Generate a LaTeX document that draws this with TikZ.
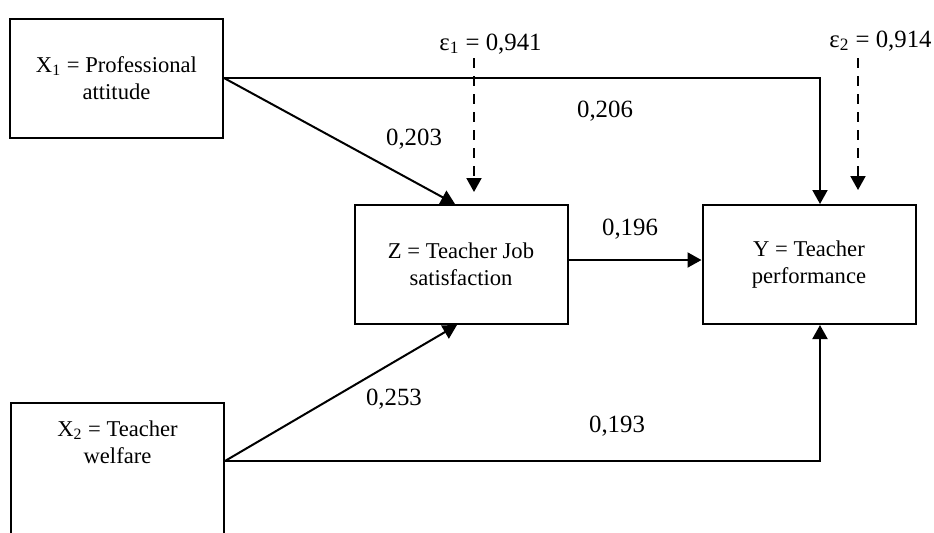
\documentclass[tikz,border=0pt]{standalone}
\usepackage{fontspec}
\setmainfont{Liberation Serif}
\usetikzlibrary{arrows.meta,calc}
\begin{document}
\begin{tikzpicture}[x=0.5pt,y=-0.5pt,
  box/.style={draw,line width=1pt,minimum width=106.5pt,minimum height=59.5pt,inner sep=0pt,align=center,font=\fontsize{11.3pt}{13.5pt}\selectfont},
  lab/.style={anchor=base,inner sep=0pt,font=\fontsize{12.4pt}{14pt}\selectfont},
  conn/.style={line width=1pt,-{Triangle[length=7pt,width=7.5pt]}},
  err/.style={line width=1pt,dash pattern=on 5pt off 4pt,-{Triangle[length=7pt,width=7.5pt]}}]
\useasboundingbox (0,0) rectangle (934,532);
\clip (0,0) rectangle (934,532);
% boxes
\node[box] (x1) at (116.5,78) {X\textsubscript{1} = Professional\\attitude};
\node[box] (z) at (461,264.5) {Z = Teacher Job\\satisfaction};
\node[box] (y) at (809,264.5) {Y = Teacher\\performance};
\node[box,anchor=north west,minimum height=72pt] (x2) at (10,402)
  {\parbox[t][72pt][t]{106.5pt}{\centering\rule{0pt}{16.5pt}X\textsubscript{2} = Teacher\\welfare}};
% error terms
\node[lab] (e1) at (490.5,50) {ε\textsubscript{1} = 0,941};
\node[lab] (e2) at (880.5,47) {ε\textsubscript{2} = 0,914};
\coordinate (e1s) at (474,58);
\coordinate (e1e) at (474,192);
\coordinate (e2s) at (858,58);
\coordinate (e2e) at (858,190);
\draw[err] (e1s) -- (e1e);
\draw[err] (e2s) -- (e2e);
% connectors
\coordinate (x2o) at ($(x2.north east)+(0,59)$);
\draw[conn] (x1.east) -- ([xshift=-3pt]z.north);
\draw[conn] (x1.east) -| ([xshift=5.5pt]y.north);
\draw[conn] ([yshift=2.25pt]z.east) -- ([yshift=2.25pt]y.west);
\draw[conn] (x2o) -- ([xshift=-2pt]z.south);
\draw[conn] (x2o) -| ([xshift=5.5pt]y.south);
% coefficients
\node[lab] (c203) at (414,145) {0,203};
\node[lab] (c206) at (605,117) {0,206};
\node[lab] (c196) at (630,235) {0,196};
\node[lab] (c253) at (394,405) {0,253};
\node[lab] (c193) at (617,432) {0,193};
\end{tikzpicture}
\end{document}
